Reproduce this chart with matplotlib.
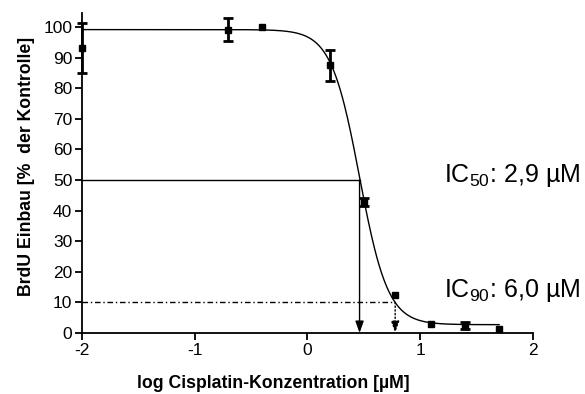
import matplotlib.pyplot as plt
import numpy as np

plt.rcParams['font.family'] = ['Liberation Sans', 'DejaVu Sans']
plt.rcParams['mathtext.fontset'] = 'custom'
plt.rcParams['mathtext.rm'] = 'Liberation Sans'
plt.rcParams['mathtext.it'] = 'Liberation Sans:italic'
plt.rcParams['axes.unicode_minus'] = False

# log concentration [µM] and BrdU incorporation [% of control]
log_conc = [-2.0, -0.7, -0.4, 0.2, 0.5, 0.78, 1.1, 1.4, 1.7]
brdu = [93.2, 99.2, 100.0, 87.5, 42.8, 12.4, 3.0, 2.4, 1.3]
brdu_err = [8.3, 3.8, 0.0, 5.0, 1.2, 0.0, 0.0, 1.1, 0.0]

# fitted sigmoid parameters
top, bottom = 99.2, 2.7
ic50_um, ic90_um = 2.9, 6.0
hill = 3.45

log_ic50 = np.log10(ic50_um)
log_ic90 = np.log10(ic90_um)


def fit(x):
    return bottom + (top - bottom) / (1 + 10 ** ((x - log_ic50) * hill))


fig = plt.figure(figsize=(5.85, 3.94), dpi=100)
ax = fig.add_axes([0.140, 0.155, 0.771, 0.811])

xs = np.linspace(-2, 1.7, 400)
ax.plot(xs, fit(xs), color='black', lw=1.0, zorder=3)

# error bars only where there is a spread
has_err = [i for i, e in enumerate(brdu_err) if e > 0]
ax.errorbar([log_conc[i] for i in has_err], [brdu[i] for i in has_err],
            yerr=[brdu_err[i] for i in has_err], fmt='none', ecolor='black',
            capsize=3.5, elinewidth=2, capthick=2, zorder=4, clip_on=False)
ax.plot(log_conc, brdu, 's', color='black', ms=5, zorder=5, clip_on=False)

# IC50 guide
ax.plot([-2, log_ic50], [50, 50], color='black', lw=1.0)
ax.annotate('', xy=(log_ic50, 0), xytext=(log_ic50, 50),
            arrowprops=dict(arrowstyle='-|>,head_width=0.25,head_length=0.7',
                            color='black', lw=1.0, shrinkA=0, shrinkB=0))

# IC90 guide
ax.plot([-2, log_ic90], [10, 10], color='black', lw=1.0,
        linestyle=(0, (4, 2, 1, 2)))
ax.annotate('', xy=(log_ic90, 0), xytext=(log_ic90, 10),
            arrowprops=dict(arrowstyle='-|>,head_width=0.25,head_length=0.7',
                            color='black', lw=1.0, linestyle=':',
                            shrinkA=0, shrinkB=0))

ax.text(1.21, 51.5, 'IC$_{50}$: 2,9 µM', fontsize=18, ha='left', va='center')
ax.text(1.21, 14, 'IC$_{90}$: 6,0 µM', fontsize=18, ha='left', va='center')

ax.set_xlim(-2, 2)
ax.set_ylim(0, 104.5)
ax.set_xticks([-2, -1, 0, 1, 2])
ax.set_yticks(np.arange(0, 101, 10))
ax.tick_params(direction='out', length=5, width=1.3, labelsize=12.5, pad=2)

for side in ['top', 'right']:
    ax.spines[side].set_visible(False)
for side in ['left', 'bottom']:
    ax.spines[side].set_linewidth(1.3)

ax.set_xlabel('log Cisplatin-Konzentration [µM]', fontsize=12.7,
              fontweight='bold', va='baseline')
ax.xaxis.set_label_coords(0.424, -0.172)
ax.set_ylabel('BrdU Einbau [%  der Kontrolle]', fontsize=12.7,
              fontweight='bold')
ax.yaxis.set_label_coords(-0.103, 0.522)

fig.savefig('out.png', dpi=100)
